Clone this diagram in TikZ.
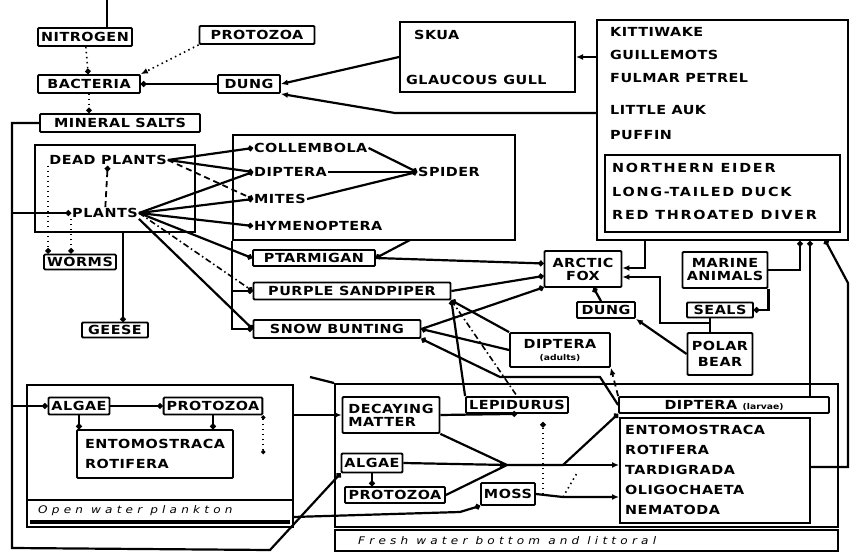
\documentclass[tikz,border=0pt]{standalone}
\usepackage{fontspec}
\newfontfamily\hand{DejaVu Sans}[FakeStretch=1.15]
\usetikzlibrary{arrows.meta}
\newcommand{\lab}{\hand\bfseries\fontsize{12.5}{14}\selectfont\addfontfeature{LetterSpace=4}}
\newcommand{\widelab}{\lab\addfontfeature{LetterSpace=14}}
\newcommand{\sublab}{\hand\fontsize{8}{9}\selectfont}
\newcommand{\striplab}{\hand\itshape\fontsize{10.5}{12}\selectfont\addfontfeature{LetterSpace=40}}

\begin{document}
\begin{tikzpicture}[
    x=1pt, y=-1pt,
    box/.style={draw, line width=1.8pt, rounded corners=1pt, inner xsep=3pt, inner ysep=2pt, minimum height=18pt, font=\lab, align=center},
    frame/.style={draw, line width=2pt, inner sep=0pt},
    word/.style={inner sep=1pt, font=\lab},
    item/.style={word, anchor=west},
    strip/.style={anchor=west, inner sep=0pt, font=\striplab},
    link/.style={line width=2.2pt},
    dots/.style={line width=1.6pt, dash pattern=on 1.5pt off 3.5pt},
    dashes/.style={line width=1.8pt, dash pattern=on 6pt off 4pt},
    dashdot/.style={line width=1.6pt, dash pattern=on 6pt off 3pt on 1.5pt off 3pt},
    todot/.style={-{Circle[length=5.5pt]}},
    topoint/.style={-{Latex[length=7pt,width=6pt]}}
]
\fill[white] (0,0) rectangle (852,554);
\useasboundingbox (0,0) rectangle (852,554);

% Nitrogen cycle at the top
\node[box, minimum width=94pt] (nitrogen) at (85,37) {NITROGEN};
\node[box, minimum width=115pt] (protoT) at (257,35) {PROTOZOA};
\node[box, minimum width=102pt] (bacteria) at (89,84) {BACTERIA};
\node[box, minimum width=62pt] (dungT) at (249,84) {DUNG};
\node[box, minimum width=160pt] (salts) at (120,123) {MINERAL SALTS};

% Skua and gull
\node[frame, minimum width=175pt, minimum height=70pt] (skua) at (487.5,57) {};
\node[item] (skuaT) at (413,35) {SKUA};
\node[item] (gull) at (405,80) {GLAUCOUS GULL};

% Sea birds
\node[frame, minimum width=251pt, minimum height=220pt] (seabirds) at (722.5,130) {};
\node[item] (kitti) at (609,32) {KITTIWAKE};
\node[item] (guille) at (609,55) {GUILLEMOTS};
\node[item] (fulmar) at (609,78) {FULMAR PETREL};
\node[item] (auk) at (609,110) {LITTLE AUK};
\node[item] (puffin) at (609,135) {PUFFIN};
\node[frame, minimum width=235pt, minimum height=77pt] (ducks) at (722.5,193.5) {};
\node[item, font=\widelab] (eider) at (611,168) {NORTHERN EIDER};
\node[item, font=\widelab] (longtail) at (611,192) {LONG-TAILED DUCK};
\node[item, font=\widelab] (diver) at (611,215) {RED THROATED DIVER};

% Plants
\node[frame, minimum width=160pt, minimum height=87pt] (plantbox) at (115,188.5) {};
\node[word] (dead) at (108,160) {DEAD PLANTS};
\node[word] (plants) at (105,213) {PLANTS};
\node[box, minimum width=64pt, minimum height=15pt] (worms) at (80,262) {WORMS};
\node[box, minimum width=66pt, minimum height=15pt] (geese) at (115,330) {GEESE};

% Insects and spider
\node[frame, minimum width=282pt, minimum height=105pt] (insects) at (374,187.5) {};
\node[item] (collembola) at (253,148) {COLLEMBOLA};
\node[item] (dipI) at (253,172) {DIPTERA};
\node[item] (mites) at (253,199) {MITES};
\node[item] (hymeno) at (253,226) {HYMENOPTERA};
\node[item] (spider) at (417,172) {SPIDER};

% Land birds and mammals
\node[box, minimum width=122pt, minimum height=16pt] (ptarmigan) at (314,258) {PTARMIGAN};
\node[box, minimum width=197pt, minimum height=17pt] (sandpiper) at (352,291) {PURPLE SANDPIPER};
\node[box, minimum width=167pt, minimum height=18pt] (bunting) at (337,329) {SNOW BUNTING};
\node[box, minimum width=77pt, minimum height=36pt] (fox) at (583,269) {ARCTIC\\[-1pt]FOX};
\node[box, minimum width=85pt, minimum height=36pt] (marine) at (725,270) {MARINE\\[-1pt]ANIMALS};
\node[box, minimum width=66pt, minimum height=15pt] (seals) at (720,310) {SEALS};
\node[box, minimum width=65pt, minimum height=42pt] (bear) at (720,354) {POLAR\\[2pt]BEAR};
\node[box, minimum width=58pt, minimum height=16pt] (dungM) at (606,310) {DUNG};
\node[box, minimum width=100pt, minimum height=34pt] (dipA) at (560,350) {DIPTERA\\[-2pt]{\sublab(adults)}};

% Fresh water bottom and littoral
\node[frame, minimum width=503pt, minimum height=143pt] (fw) at (586.5,455.5) {};
\node[frame, minimum width=503pt, minimum height=21pt] (fwstrip) at (586.5,540.5) {};
\node[strip] (fwtext) at (358,541) {Fresh water bottom and littoral};
\node[box, minimum width=97pt, minimum height=36pt, align=left] (decay) at (391,415) {DECAYING\\[-1pt]MATTER};
\node[box, minimum width=102pt, minimum height=16pt] (lepid) at (517,405) {LEPIDURUS};
\node[box, minimum width=210pt, minimum height=16pt] (dipL) at (724,405) {DIPTERA {\sublab(larvae)}};
\node[frame, minimum width=190pt, minimum height=105pt] (fwlist) at (715,470.5) {};
\node[item] (entoF) at (624,430) {ENTOMOSTRACA};
\node[item] (rotiF) at (624,450) {ROTIFERA};
\node[item] (tardi) at (624,470) {TARDIGRADA};
\node[item] (oligo) at (624,490) {OLIGOCHAETA};
\node[item] (nema) at (624,510) {NEMATODA};
\node[box, minimum width=55pt, minimum height=19pt] (algaeF) at (372,463) {ALGAE};
\node[box, minimum width=100pt, minimum height=16pt] (protoF) at (395,495) {PROTOZOA};
\node[box, minimum width=50pt, minimum height=22pt] (moss) at (508,494) {MOSS};

% Open water plankton
\node[frame, minimum width=266pt, minimum height=142pt] (pond) at (160,456) {};
\draw[link] (pond.west |- 0,500) -- (pond.east |- 0,500);
\draw[line width=3.5pt] (30,522) -- (290,522);
\node[strip] (pondtext) at (38,511) {Open water plankton};
\node[box, minimum width=58pt, minimum height=17pt] (algaeP) at (79,406) {ALGAE};
\node[box, minimum width=95pt, minimum height=17pt] (protoP) at (213,406) {PROTOZOA};
\node[box, minimum width=156pt, minimum height=48pt, align=left] (pondlist) at (155,454) {ENTOMOSTRACA\\[6pt]ROTIFERA};

% Bend points
\coordinate (sky) at (107,0);
\coordinate (lseabird) at (395,113);
\coordinate (rimTop) at (12,123);
\coordinate (rimBot) at (12,548);
\coordinate (rimEnd) at (270,550);
\coordinate (geeseIn) at (123,322);
\coordinate (insOut) at (410,240);
\coordinate (seaFox) at (645,268);
\coordinate (seaMar) at (800,270);
\coordinate (bearTop) at (710,323);
\coordinate (bearBend) at (660,323);
\coordinate (foxBend) at (660,277);
\coordinate (buntA) at (500,377);
\coordinate (buntB) at (600,377);
\coordinate (pondOut) at (293,517);
\coordinate (mossBend) at (460,512);
\coordinate (mix) at (507,465);
\coordinate (mixUp) at (563,465);
\coordinate (mossTop) at (543,422);
\coordinate (mossEnd) at (563,497);
\coordinate (mossDot) at (577,473);
\coordinate (duckIn) at (810,397);
\coordinate (duckOutA) at (848,467);
\coordinate (duckOutB) at (848,283);
\coordinate (duckTip) at (825,240);
\coordinate (fwStroke) at (310,377);

% Top links
\draw[link] (sky) -- (sky |- nitrogen.north);
\draw[dots, todot] (nitrogen) -- (bacteria);
\draw[dots, topoint] (protoT.south west) -- (bacteria.north east);
\draw[link, todot] (dungT) -- (bacteria);
\draw[dots, todot] (bacteria.south) -- (bacteria.south |- salts.north);
\draw[link, topoint] (skua.west) -- (dungT.east);
\draw[link, topoint] (seabirds.west |- lseabird) -- (lseabird) -- (dungT.south east);
\draw[link, topoint] (seabirds.west |- skua.east) -- (skua.east);

% Mineral salts round the left side
\draw[link, todot] (salts.west) -- (rimTop) -- (rimBot) -- (rimEnd) -- (algaeF.south west);
\draw[link, todot] (rimTop |- plants) -- (plants.west);
\draw[link, todot] (rimTop |- algaeP) -- (algaeP.west);

% Plants
\draw[dashes, todot] (plants) -- (dead);
\draw[dots, todot] (dead.south west) -- (dead.south west |- worms.north);
\draw[dots, todot] (plants.south west) -- (plants.south west |- worms.north);
\draw[link, todot] (plantbox.south -| geeseIn) -- (geeseIn);
\draw[link, todot] (dead.east) -- (collembola.west);
\draw[link, todot] (dead.east) -- (dipI.west);
\draw[dashes, todot] (dead.east) -- (mites.west);
\draw[link, todot] (plants.east) -- (dipI.west);
\draw[link, todot] (plants.east) -- (mites.west);
\draw[link, todot] (plants.east) -- (hymeno.west);
\draw[link, todot] (plants.east) -- (ptarmigan.west);
\draw[dashdot, todot] (plants.east) -- (sandpiper.west);
\draw[link, todot] (plants.south east) -- (bunting.west);

% Spider
\draw[link, todot] (collembola.east) -- (spider.west);
\draw[link, todot] (dipI.east) -- (spider.west);
\draw[link, todot] (mites.east) -- (spider.west);

% Insects to birds
\draw[link, todot] (insOut) -- (ptarmigan.east);
\draw[link, todot] (insects.south west) |- (bunting.west);
\draw[link, todot] (insects.south west |- sandpiper) -- (sandpiper.west);

% Arctic fox and polar bear
\draw[link, todot] (ptarmigan.east) -- (fox.172);
\draw[link, todot] (sandpiper.east) -- (fox.190);
\draw[link, todot] (bunting.east) -- (fox.205);
\draw[link, topoint] (seabirds.south -| seaFox) -- (seaFox) -- (fox.east |- seaFox);
\draw[link, todot] (marine.east) -- (seaMar) -- (seaMar |- seabirds.south);
\draw[link, todot] (marine.south east) |- (seals.east);
\draw[link] (seals.south -| bearTop) -- (bear.north -| bearTop);
\draw[link, topoint] (bearTop) -- (bearBend) -- (foxBend) -- (fox.east |- foxBend);
\draw[link, todot] (dungM) -- (fox);
\draw[link, topoint] (bear.west) -- (dungM.south east);

% Diptera, Lepidurus and the birds
\draw[link, todot] (dipA.north west) -- (sandpiper.south east);
\draw[link, todot] (dipA.west) -- (bunting.east);
\draw[link, todot] (lepid.north west) -- (sandpiper.south east);
\draw[dashdot] (sandpiper.south east) -- (lepid.north);
\draw[dashes, topoint] (dipL.north west) -- (dipA.south east);
\draw[link, todot] (dipL.west) -- (buntB) -- (buntA) -- (bunting.south east);

% Fresh water
\draw[link] (fw.north west) -- (fwStroke);
\draw[link, topoint] (pond.east |- decay) -- (decay.west);
\draw[link, todot] (pondOut) -- (mossBend) -- (moss.south west);
\draw[link, todot] (decay.east) -- (lepid.south);
\draw[link] (decay.south east) -- (mix);
\draw[link, topoint] (algaeF.east) -- (mix);
\draw[link] (protoF.east) -- (mix);
\draw[link, todot] (mix) -- (mixUp) -- (dipL.south west);
\draw[link, topoint] (mix) -- (mix -| fwlist.west);
\draw[link, todot] (algaeF.south) -- (algaeF.south |- protoF.north);
\draw[dots, todot] (mossTop |- moss) -- (mossTop);
\draw[link, topoint] (moss.east) -- (mossEnd) -- (mossEnd -| fwlist.west);
\draw[dots] (mossEnd) -- (mossDot);

% Fresh water to the ducks
\draw[link, todot] (duckIn) -- (duckIn |- seabirds.south);
\draw[link, todot] (fwlist.east |- duckOutA) -- (duckOutA) -- (duckOutB) -- (duckTip);

% Plankton
\draw[link, todot] (algaeP) -- (protoP);
\draw[link, todot] (algaeP.south) -- (algaeP.south |- pondlist.north);
\draw[link, todot] (protoP.south) -- (protoP.south |- pondlist.north);
\draw[dots, {Circle[length=4pt]}-{Circle[length=4pt]}] (protoP.south east) -- (protoP.south east |- pondlist.east);

\end{tikzpicture}
\end{document}
